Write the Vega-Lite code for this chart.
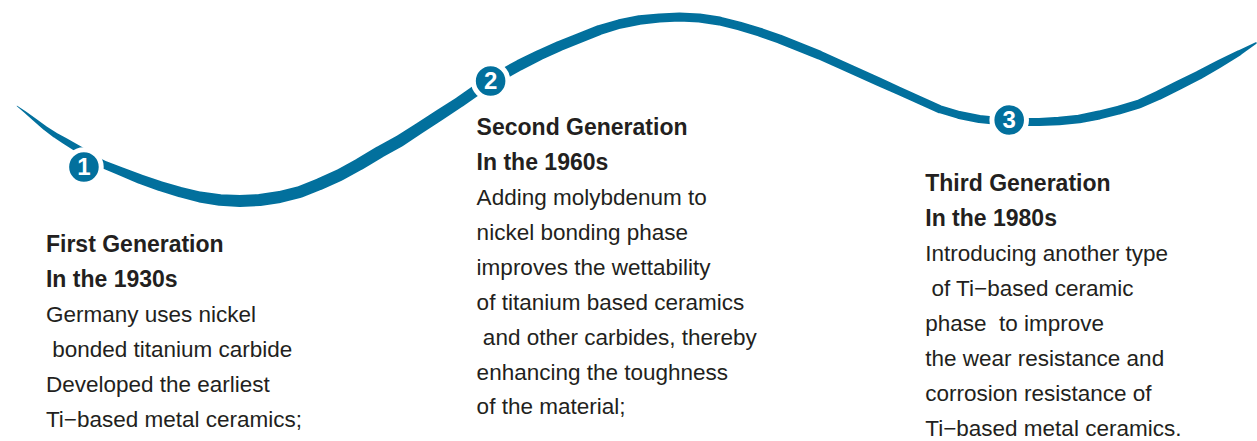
{
  "$schema": "https://vega.github.io/schema/vega-lite/v6.json",
  "width": 1257,
  "height": 441,
  "autosize": {"type": "fit", "contains": "padding"},
  "padding": 0,
  "background": "#ffffff",
  "config": {"view": {"stroke": null}},
  "datasets": {
    "curve": [
      {"x": 17, "y": 106, "w": 0.5}, {"x": 25, "y": 112, "w": 2}, {"x": 35, "y": 120, "w": 3.5},
      {"x": 45, "y": 128, "w": 4.5}, {"x": 55, "y": 135, "w": 5.5}, {"x": 65, "y": 141, "w": 6.5},
      {"x": 75, "y": 147, "w": 7}, {"x": 85, "y": 153, "w": 7.5}, {"x": 95, "y": 160, "w": 8},
      {"x": 105, "y": 165, "w": 8}, {"x": 120, "y": 171, "w": 8.5}, {"x": 140, "y": 179, "w": 9.5},
      {"x": 160, "y": 186, "w": 10}, {"x": 180, "y": 192, "w": 10.5}, {"x": 200, "y": 197, "w": 11},
      {"x": 220, "y": 200, "w": 11.5}, {"x": 240, "y": 201, "w": 12}, {"x": 260, "y": 200, "w": 12},
      {"x": 280, "y": 197, "w": 12}, {"x": 300, "y": 192, "w": 12}, {"x": 320, "y": 184, "w": 12},
      {"x": 340, "y": 175, "w": 12}, {"x": 360, "y": 164, "w": 12}, {"x": 380, "y": 152, "w": 12},
      {"x": 400, "y": 141, "w": 12}, {"x": 420, "y": 128, "w": 11.5}, {"x": 440, "y": 115, "w": 11.5},
      {"x": 460, "y": 102, "w": 11}, {"x": 480, "y": 88, "w": 11}, {"x": 500, "y": 76, "w": 11},
      {"x": 520, "y": 65, "w": 11}, {"x": 540, "y": 55, "w": 10.5}, {"x": 560, "y": 46, "w": 10.5},
      {"x": 580, "y": 38, "w": 10}, {"x": 600, "y": 30, "w": 10}, {"x": 620, "y": 24, "w": 9.5},
      {"x": 640, "y": 20, "w": 9.5}, {"x": 660, "y": 18, "w": 9}, {"x": 680, "y": 17, "w": 9},
      {"x": 700, "y": 18, "w": 9}, {"x": 720, "y": 21, "w": 9}, {"x": 740, "y": 26, "w": 9},
      {"x": 760, "y": 32, "w": 9}, {"x": 780, "y": 39, "w": 9}, {"x": 800, "y": 47, "w": 9},
      {"x": 820, "y": 55, "w": 9}, {"x": 840, "y": 64, "w": 8.5}, {"x": 860, "y": 73, "w": 8.5},
      {"x": 880, "y": 82, "w": 8.5}, {"x": 900, "y": 91, "w": 8}, {"x": 920, "y": 100, "w": 8},
      {"x": 940, "y": 109, "w": 8}, {"x": 960, "y": 115, "w": 8}, {"x": 980, "y": 119, "w": 8},
      {"x": 1000, "y": 121, "w": 8}, {"x": 1020, "y": 122, "w": 8}, {"x": 1040, "y": 122, "w": 8},
      {"x": 1060, "y": 121, "w": 8.5}, {"x": 1080, "y": 119, "w": 8.5}, {"x": 1100, "y": 115, "w": 9},
      {"x": 1120, "y": 110, "w": 9}, {"x": 1140, "y": 104, "w": 9}, {"x": 1160, "y": 95, "w": 9.5},
      {"x": 1180, "y": 85, "w": 9.5}, {"x": 1200, "y": 75, "w": 9}, {"x": 1220, "y": 64, "w": 8},
      {"x": 1240, "y": 53, "w": 5.5}, {"x": 1257, "y": 43, "w": 1.5}
    ],
    "nodes": [
      {"x": 84, "y": 167, "n": "1"},
      {"x": 491, "y": 81, "n": "2"},
      {"x": 1010, "y": 120, "n": "3"}
    ],
    "texts": [
      {"x": 46, "y": 252, "b": 1, "t": "First Generation"},
      {"x": 46, "y": 287, "b": 1, "t": "In the 1930s"},
      {"x": 46, "y": 322, "b": 0, "t": "Germany uses nickel"},
      {"x": 46, "y": 357, "b": 0, "t": "\u200b\u00a0bonded titanium carbide"},
      {"x": 46, "y": 392, "b": 0, "t": "Developed the earliest"},
      {"x": 46, "y": 427, "b": 0, "t": "Ti\u2212based metal ceramics;"},
      {"x": 477, "y": 135, "b": 1, "t": "Second Generation"},
      {"x": 477, "y": 170, "b": 1, "t": "In the 1960s"},
      {"x": 477, "y": 205, "b": 0, "t": "Adding molybdenum to"},
      {"x": 477, "y": 240, "b": 0, "t": "nickel bonding phase"},
      {"x": 477, "y": 275, "b": 0, "t": "improves the wettability"},
      {"x": 477, "y": 310, "b": 0, "t": "of titanium based ceramics"},
      {"x": 477, "y": 345, "b": 0, "t": "\u200b\u00a0and other carbides, thereby"},
      {"x": 477, "y": 380, "b": 0, "t": "enhancing the toughness"},
      {"x": 477, "y": 414, "b": 0, "t": "of the material;"},
      {"x": 926, "y": 191, "b": 1, "t": "Third Generation"},
      {"x": 926, "y": 226, "b": 1, "t": "In the 1980s"},
      {"x": 926, "y": 261, "b": 0, "t": "Introducing another type"},
      {"x": 926, "y": 296, "b": 0, "t": "\u200b\u00a0of Ti\u2212based ceramic"},
      {"x": 926, "y": 331, "b": 0, "t": "phase\u00a0 to improve"},
      {"x": 926, "y": 366, "b": 0, "t": "the wear resistance and"},
      {"x": 926, "y": 401, "b": 0, "t": "corrosion resistance of"},
      {"x": 926, "y": 436, "b": 0, "t": "Ti\u2212based metal ceramics."}
    ]
  },
  "encoding": {
    "x": {"field": "x", "type": "quantitative", "scale": {"domain": [0, 1257], "nice": false, "zero": false}, "axis": null},
    "y": {"field": "y", "type": "quantitative", "scale": {"domain": [0, 441], "nice": false, "zero": false, "reverse": true}, "axis": null}
  },
  "layer": [
    {
      "data": {"name": "curve"},
      "mark": {"type": "trail", "color": "#02709d"},
      "encoding": {
        "size": {"field": "w", "type": "quantitative", "scale": null, "legend": null},
        "order": {"field": "x", "type": "quantitative"}
      }
    },
    {
      "data": {"name": "nodes"},
      "mark": {"type": "point", "shape": "circle", "filled": true, "size": 1195, "fill": "#02709d", "stroke": "#ffffff", "strokeWidth": 5, "opacity": 1}
    },
    {
      "data": {"name": "nodes"},
      "mark": {"type": "text", "align": "center", "baseline": "middle", "font": "Liberation Sans", "fontWeight": "bold", "fontSize": 24, "color": "#ffffff", "dy": 1},
      "encoding": {"text": {"field": "n"}}
    },
    {
      "data": {"name": "texts"},
      "transform": [{"filter": "datum.b == 1"}],
      "mark": {"type": "text", "align": "left", "baseline": "alphabetic", "font": "Liberation Sans", "fontWeight": "bold", "fontSize": 23, "color": "#231f20"},
      "encoding": {"text": {"field": "t"}}
    },
    {
      "data": {"name": "texts"},
      "transform": [{"filter": "datum.b == 0"}],
      "mark": {"type": "text", "align": "left", "baseline": "alphabetic", "font": "Liberation Sans", "fontSize": 22.5, "color": "#231f20"},
      "encoding": {"text": {"field": "t"}}
    }
  ]
}
